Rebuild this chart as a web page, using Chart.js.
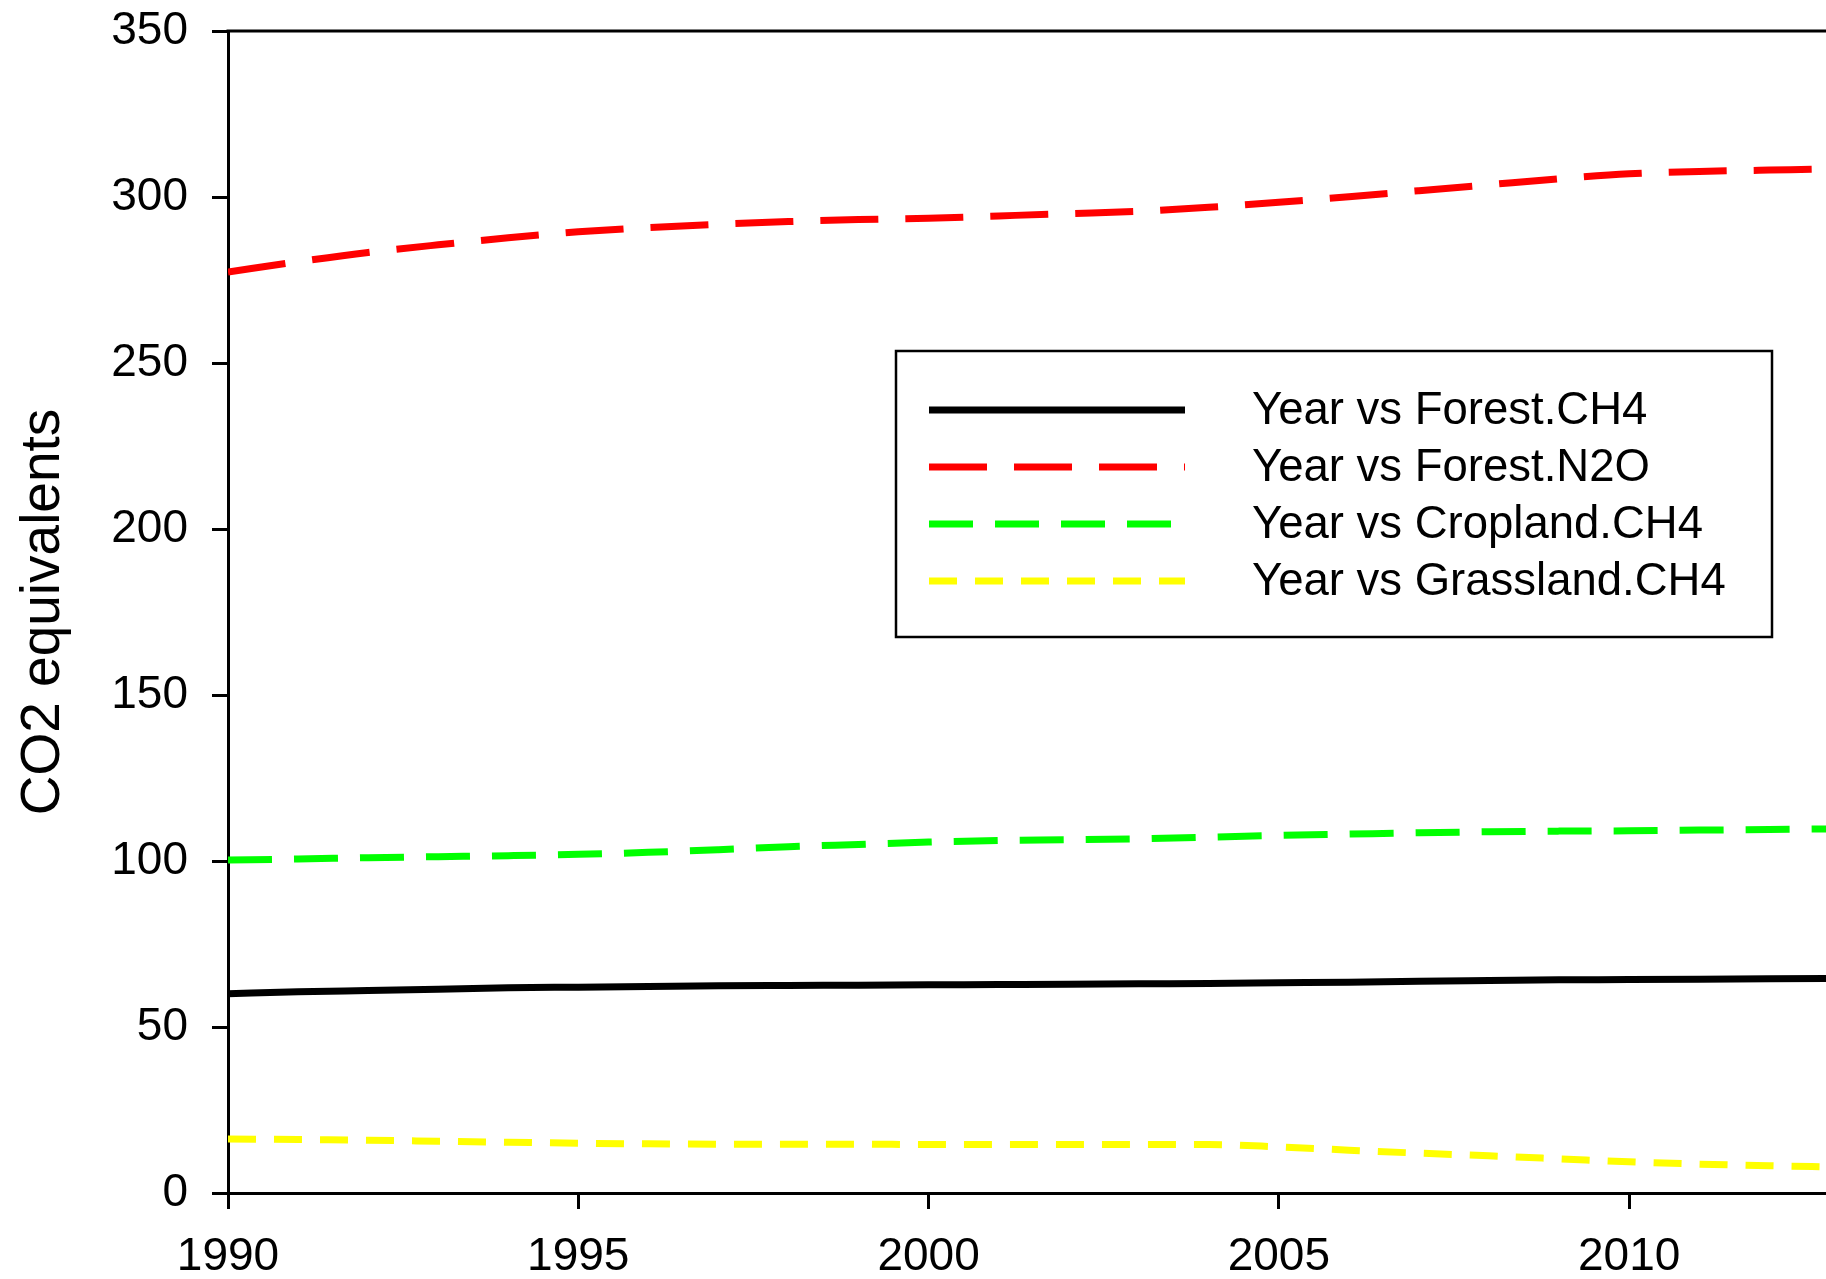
<!DOCTYPE html>
<html>
<head>
<meta charset="utf-8">
<script src="https://cdn.jsdelivr.net/npm/chart.js@4.4.1/dist/chart.umd.min.js"></script>
<style>
  html, body { margin: 0; padding: 0; background: #fff; overflow: hidden; }
  #wrap { width: 1826px; height: 1279px; position: relative; }
</style>
</head>
<body>
<div id="wrap"><canvas id="c"></canvas></div>
<script>
const years = [1990, 1991, 1992, 1993, 1994, 1995, 1996, 1997, 1998, 1999, 2000, 2001,
               2002, 2003, 2004, 2005, 2006, 2007, 2008, 2009, 2010, 2011, 2012, 2013];
const forestCH4 = [60.0, 60.6, 61.0, 61.4, 61.8, 62.0, 62.2, 62.4, 62.5, 62.6, 62.7, 62.8,
                   62.9, 63.0, 63.1, 63.3, 63.5, 63.8, 64.0, 64.2, 64.3, 64.4, 64.5, 64.6];
const forestN2O = [277.4, 280.5, 283.3, 285.6, 287.7, 289.5, 290.8, 291.8, 292.6, 293.2, 293.6, 294.3,
                   295.0, 295.7, 296.9, 298.4, 300.1, 301.9, 303.7, 305.5, 307.0, 307.7, 308.1, 308.5];
const croplandCH4 = [100.3, 100.6, 101.0, 101.3, 101.6, 102.0, 102.6, 103.4, 104.3, 105.0, 105.7, 106.2,
                     106.4, 106.7, 107.2, 107.7, 108.1, 108.5, 108.8, 109.0, 109.1, 109.3, 109.5, 109.7];
const grasslandCH4 = [16.3, 16.1, 15.9, 15.6, 15.3, 15.0, 14.8, 14.7, 14.7, 14.7, 14.6, 14.6,
                      14.6, 14.6, 14.6, 13.9, 12.9, 12.0, 11.2, 10.3, 9.4, 8.7, 8.2, 7.8];
const seriesLabels = ['Year vs Forest.CH4', 'Year vs Forest.N2O', 'Year vs Cropland.CH4', 'Year vs Grassland.CH4'];
const xTicks = [1990, 1995, 2000, 2005, 2010];
const yTicks = [0, 50, 100, 150, 200, 250, 300, 350];
const yTitle = 'CO2 equivalents';

const FONT = '"Liberation Sans", Arial, sans-serif';
Chart.defaults.font.family = FONT;
Chart.defaults.color = '#000';

function pts(vals) { return years.map((y, i) => ({ x: y, y: vals[i] })); }

const legendLayout = { left: 896, top: 351, right: 1772, bottom: 637,
                       lineX1: 929, lineX2: 1185, textX: 1252, firstRowY: 410, rowGap: 57 };

const framePlugin = {
  id: 'frame',
  afterDraw(chart) {
    const ctx = chart.ctx, a = chart.chartArea;
    ctx.save();
    ctx.strokeStyle = '#000';
    ctx.lineWidth = 3;
    ctx.beginPath();
    ctx.moveTo(a.left - 1.5, a.top);
    ctx.lineTo(a.right, a.top);
    ctx.stroke();
    // legend
    const L = legendLayout;
    ctx.fillStyle = '#fff';
    ctx.fillRect(L.left, L.top, L.right - L.left, L.bottom - L.top);
    ctx.lineWidth = 2.5;
    ctx.strokeRect(L.left, L.top, L.right - L.left, L.bottom - L.top);
    chart.data.datasets.forEach((ds, i) => {
      const y = L.firstRowY + i * L.rowGap;
      ctx.strokeStyle = ds.borderColor;
      ctx.lineWidth = ds.borderWidth;
      ctx.lineCap = 'butt';
      ctx.setLineDash(ds.borderDash || []);
      ctx.beginPath();
      ctx.moveTo(L.lineX1, y);
      ctx.lineTo(L.lineX2, y);
      ctx.stroke();
      ctx.setLineDash([]);
      ctx.fillStyle = '#000';
      ctx.font = '45.5px ' + FONT;
      ctx.textBaseline = 'middle';
      ctx.textAlign = 'left';
      ctx.fillText(ds.label, L.textX, y + 1);
    });
    ctx.restore();
  }
};

const common = { fill: false, pointRadius: 0, borderWidth: 7, cubicInterpolationMode: 'monotone', borderCapStyle: 'butt' };

new Chart(document.getElementById('c'), {
  type: 'line',
  data: {
    datasets: [
      Object.assign({ label: seriesLabels[0], data: pts(forestCH4), borderColor: '#000000', borderDash: [] }, common),
      Object.assign({ label: seriesLabels[1], data: pts(forestN2O), borderColor: '#ff0000', borderDash: [58, 27] }, common),
      Object.assign({ label: seriesLabels[2], data: pts(croplandCH4), borderColor: '#00ff00', borderDash: [44, 22] }, common),
      Object.assign({ label: seriesLabels[3], data: pts(grasslandCH4), borderColor: '#ffff00', borderDash: [28, 18] }, common)
    ]
  },
  options: {
    responsive: true,
    maintainAspectRatio: false,
    animation: false,
    layout: { padding: { left: 0, top: 31, right: 0, bottom: 0 } },
    plugins: { legend: { display: false }, tooltip: { enabled: false } },
    scales: {
      x: {
        type: 'linear',
        min: 1990,
        max: 2012.81,
        afterBuildTicks(scale) { scale.ticks = xTicks.map(v => ({ value: v })); },
        afterFit(scale) { scale.height = 86; scale.paddingLeft = 0; scale.paddingRight = 0; },
        ticks: { font: { size: 46 }, color: '#000', padding: 21, maxRotation: 0, autoSkip: false,
                 callback: v => String(v) },
        grid: { display: true, drawOnChartArea: false, drawTicks: true, tickLength: 16,
                tickWidth: 3, tickColor: '#000' },
        border: { display: true, color: '#000', width: 3 }
      },
      y: {
        min: 0,
        max: 350,
        afterBuildTicks(scale) { scale.ticks = yTicks.map(v => ({ value: v })); },
        afterFit(scale) { scale.width = 228; scale.paddingTop = 0; scale.paddingBottom = 0; },
        ticks: { font: { size: 46 }, color: '#000', padding: 24, autoSkip: false },
        grid: { display: true, drawOnChartArea: false, drawTicks: true, tickLength: 16,
                tickWidth: 3, tickColor: '#000' },
        border: { display: true, color: '#000', width: 3 },
        title: { display: true, text: yTitle, font: { size: 55 }, color: '#000', padding: { top: 11, bottom: 0 } }
      }
    }
  },
  plugins: [framePlugin]
});
</script>
</body>
</html>
